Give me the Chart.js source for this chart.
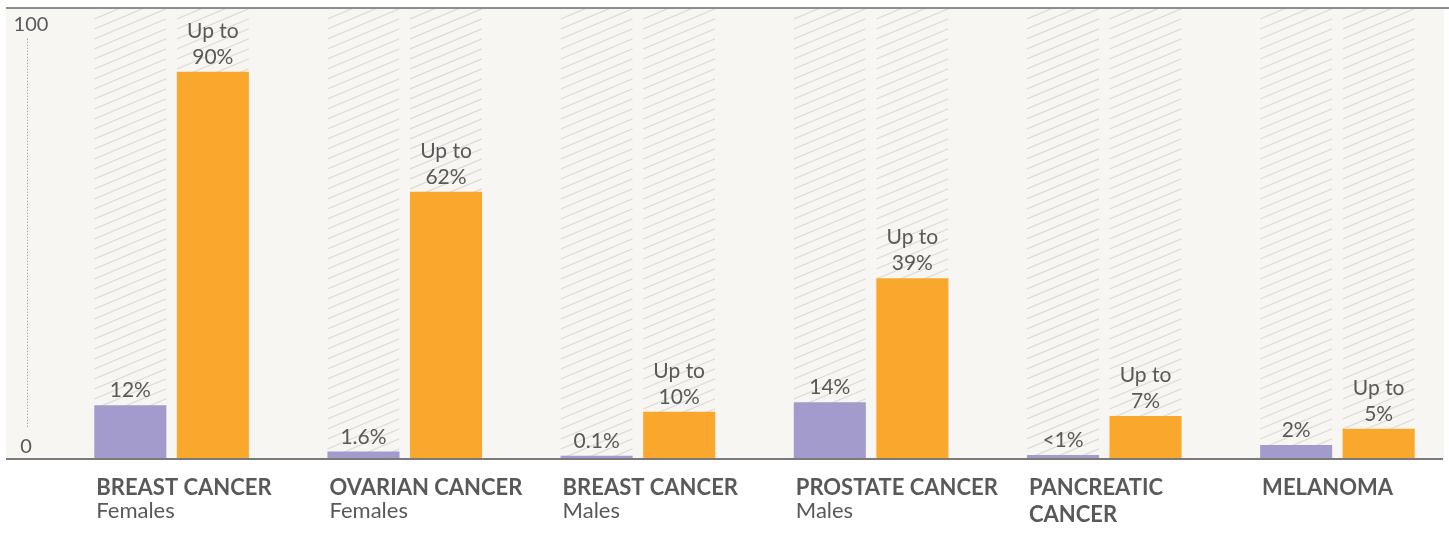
<!DOCTYPE html>
<html>
<head>
<meta charset="utf-8">
<script src="https://cdn.jsdelivr.net/npm/chart.js@4"></script>
<style>
  html, body { margin: 0; padding: 0; background: #ffffff; overflow: hidden; }
  #wrap { width: 1449px; height: 534px; overflow: hidden; }
</style>
</head>
<body>
<div id="wrap"><canvas id="riskChart" width="1454" height="534"></canvas></div>
<script>
// Datos del gráfico
const categoryTitles = [['BREAST CANCER'], ['OVARIAN CANCER'], ['BREAST CANCER'], ['PROSTATE CANCER'], ['PANCREATIC', 'CANCER'], ['MELANOMA']];
const categorySubtitles = ['Females', 'Females', 'Males', 'Males', '', ''];
const generalRisk = [12.3, 1.5, 0.5, 13.0, 0.7, 3.0];
const generalLabels = [['12%'], ['1.6%'], ['0.1%'], ['14%'], ['<1%'], ['2%']];
const mutationRisk = [90, 62, 10.8, 41.9, 9.8, 6.8];
const mutationLabels = [['Up to', '90%'], ['Up to', '62%'], ['Up to', '10%'], ['Up to', '39%'], ['Up to', '7%'], ['Up to', '5%']];
const yTicks = [0, 100];

const FONT = 'Lato, "Open Sans", sans-serif';
const TEXT = '#595959';

// Fondo, rayado y líneas de referencia
const decorPlugin = {
  id: 'decor',
  beforeDatasetsDraw(chart) {
    const ctx = chart.ctx;
    const area = chart.chartArea;
    ctx.save();
    ctx.fillStyle = '#f7f6f2';
    ctx.fillRect(6, area.top, 1444 - 6, area.bottom - area.top);

    // Rayado detrás de cada barra
    chart.data.datasets.forEach((ds, i) => {
      chart.getDatasetMeta(i).data.forEach(bar => {
        const x0 = bar.x - bar.width / 2;
        const x1 = bar.x + bar.width / 2;
        ctx.save();
        ctx.beginPath();
        ctx.rect(x0, area.top, x1 - x0, area.bottom - area.top);
        ctx.clip();
        ctx.strokeStyle = '#dbdad5';
        ctx.lineWidth = 1.2;
        const slope = 0.42;
        const rise = slope * (x1 - x0);
        for (let y = area.top - 20; y < area.bottom + rise + 20; y += 10) {
          ctx.beginPath();
          ctx.moveTo(x0, y);
          ctx.lineTo(x1, y - rise);
          ctx.stroke();
        }
        ctx.restore();
      });
    });

    // Línea superior
    ctx.fillStyle = '#8c8c8c';
    ctx.fillRect(6, area.top - 2, 1449 - 6, 2);

    // Eje Y: etiquetas y línea punteada
    const yScale = chart.scales.y;
    ctx.fillStyle = TEXT;
    ctx.font = '20px ' + FONT;
    ctx.textAlign = 'center';
    ctx.textBaseline = 'alphabetic';
    yTicks.forEach(v => {
      const py = yScale.getPixelForValue(v);
      if (v === 0) ctx.fillText(String(v), 26, py - 5);
      else ctx.fillText(String(v), 31, py + 2);
    });
    ctx.strokeStyle = '#8a8a8a';
    ctx.lineWidth = 1;
    ctx.setLineDash([1, 2]);
    ctx.beginPath();
    ctx.moveTo(27.5, yScale.getPixelForValue(yTicks[1]) + 10);
    ctx.lineTo(27.5, yScale.getPixelForValue(yTicks[0]) - 30);
    ctx.stroke();
    ctx.restore();
  },
  afterDatasetsDraw(chart) {
    const ctx = chart.ctx;
    const area = chart.chartArea;
    ctx.save();
    // Línea base
    ctx.fillStyle = '#7a7a7a';
    ctx.fillRect(6, area.bottom, 1443 - 6, 2);

    // Etiquetas de valor
    ctx.fillStyle = TEXT;
    ctx.font = '21px ' + FONT;
    ctx.textAlign = 'center';
    ctx.textBaseline = 'alphabetic';
    const labelSets = [generalLabels, mutationLabels];
    chart.data.datasets.forEach((ds, i) => {
      chart.getDatasetMeta(i).data.forEach((bar, j) => {
        const lines = labelSets[i][j];
        lines.forEach((line, k) => {
          const y = bar.y - 8 - (lines.length - 1 - k) * 26;
          ctx.fillText(line, bar.x, y);
        });
      });
    });

    // Etiquetas de categoría
    ctx.textAlign = 'left';
    chart.getDatasetMeta(0).data.forEach((bar, j) => {
      const x = bar.x - bar.width / 2 + 2;
      ctx.font = 'bold 22px ' + FONT;
      categoryTitles[j].forEach((line, k) => {
        ctx.fillText(line, x, 495 + k * 27);
      });
      if (categorySubtitles[j]) {
        ctx.font = '22px ' + FONT;
        ctx.fillText(categorySubtitles[j], x, 518);
      }
    });
    ctx.restore();
  }
};

const ctx = document.getElementById('riskChart').getContext('2d');
new Chart(ctx, {
  type: 'bar',
  data: {
    labels: categoryTitles.map(t => t.join(' ')),
    datasets: [{
      label: 'General population',
      data: generalRisk,
      backgroundColor: '#a29bcb',
      borderWidth: 0
    }, {
      label: 'With mutation',
      data: mutationRisk,
      backgroundColor: '#f9a82d',
      borderWidth: 0
    }]
  },
  options: {
    responsive: false,
    animation: false,
    devicePixelRatio: 1,
    layout: { padding: { left: 55, right: 0, top: 9, bottom: 76 } },
    datasets: {
      bar: { categoryPercentage: 0.708, barPercentage: 0.873 }
    },
    plugins: {
      legend: { display: false },
      tooltip: { enabled: false }
    },
    scales: {
      x: { display: false },
      y: { display: false, min: 0, max: 104.6 }
    }
  },
  plugins: [decorPlugin]
});
</script>
</body>
</html>
